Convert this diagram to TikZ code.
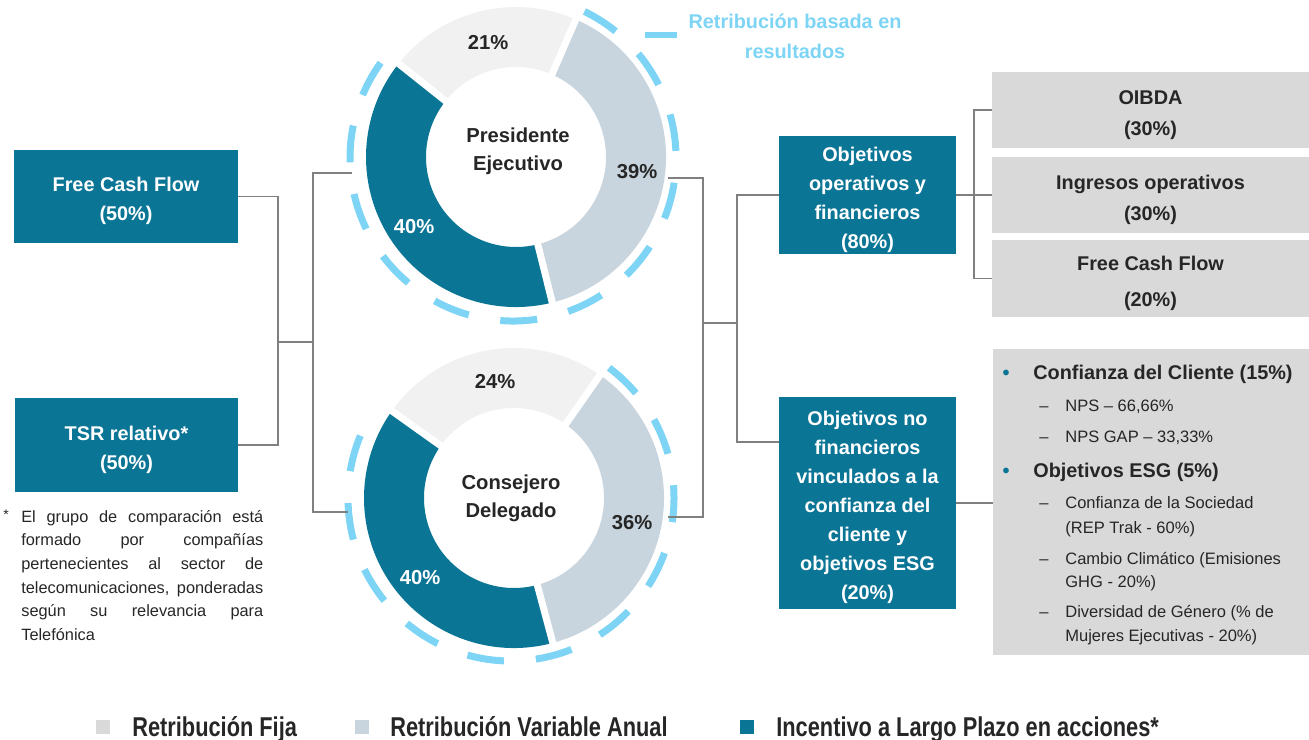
\documentclass[tikz,border=0pt]{standalone}
\usepackage{fontspec}
\setmainfont{Liberation Sans}
\newfontfamily\narrowfont{Liberation Sans}[FakeStretch=0.8]
\usetikzlibrary{calc}
\tolerance=10000
\definecolor{tblue}{RGB}{11,117,150}
\definecolor{lgray}{RGB}{241,241,241}
\definecolor{bgray}{RGB}{200,213,222}
\definecolor{sky}{RGB}{125,212,244}
\definecolor{boxgray}{RGB}{217,217,217}
\definecolor{lnk}{RGB}{128,128,128}
\definecolor{txt}{RGB}{38,38,38}
\newcommand{\bx}{\bfseries\fontsize{11.3}{16.5}\selectfont}
\newcommand{\gx}{\bfseries\fontsize{11.3}{17.6}\selectfont}
\newcommand{\rin}{90}
\newcommand{\rout}{150}
\newcommand{\rdash}{163}
% ring piece: centre x, centre y, from, to, colour
\newcommand{\piece}[5]{
\fill[#5] ($(#1,#2)+(#3:\rout)$) arc (#3:#4:\rout) --
          ($(#1,#2)+(#4:\rin)$) arc (#4:#3:\rin) -- cycle;
}
% white cut between two pieces
\newcommand{\piecegap}[3]{
\draw[white, line width=0.14cm] ($(#1,#2)+(#3:84)$) -- ($(#1,#2)+(#3:156)$);
}
% dashed ring round the variable part
\newcommand{\varring}[4]{
\draw[sky, line width=0.14cm, dash pattern=on 0.74cm off 0.64cm]
     ($(#1,#2)+(#3:\rdash)$) arc (#3:#4:\rdash);
}
% list lines of the grey box: name, baseline, text
\newcommand{\esghead}[3]{
\node[headtxt, anchor=base west] (#1) at (1033,#2) {#3};
\node[font=\bfseries\fontsize{11.3}{14}\selectfont, text=tblue, inner sep=0pt, anchor=base] (#1b) at (1006,#2) {\textbullet};
}
\newcommand{\esgsub}[3]{
\node[subtxt, anchor=base west] (#1) at (1065,#2) {#3};
\node[subtxt, anchor=base] (#1d) at (1044,#2) {--};
}
\newcommand{\esgmore}[3]{
\node[subtxt, anchor=base west] (#1) at (1065,#2) {#3};
}
% strut that sets the first line of a box a little lower
\newcommand{\bs}{\rule{0pt}{13.3pt}}

\begin{document}
\begin{tikzpicture}[x=0.02cm, y=-0.02cm,
  tbox/.style={fill=tblue, text=white, font=\bx, align=center, inner sep=0pt},
  gbox/.style={fill=boxgray, text=txt, font=\gx, align=center, inner sep=0pt,
               minimum width=6.34cm, minimum height=1.52cm},
  conn/.style={draw=lnk, line width=1.1pt},
  pct/.style={font=\bfseries\fontsize{11.5}{14}\selectfont, text=txt, inner sep=0pt},
  who/.style={font=\bfseries\fontsize{11.5}{16}\selectfont, text=txt, align=center, inner sep=0pt},
  headtxt/.style={font=\bfseries\fontsize{11.3}{14}\selectfont, text=txt, inner sep=0pt},
  subtxt/.style={font=\fontsize{9.4}{12}\selectfont, text=txt, inner sep=0pt},
  legsq/.style={minimum size=0.28cm, inner sep=0pt},
  legtxt/.style={font=\narrowfont\bfseries\fontsize{15.5}{18}\selectfont, text=txt, inner sep=0pt, anchor=base west}]
\useasboundingbox (0,0) rectangle (1309,740);

% presidente ejecutivo
\piece{516}{157}{-66.5}{76}{bgray}
\piece{516}{157}{76}{218.5}{tblue}
\piece{516}{157}{218.5}{293.5}{lgray}
\piecegap{516}{157}{-66.5}
\piecegap{516}{157}{76}
\piecegap{516}{157}{218.5}
\varring{513}{158}{-64}{216}

% consejero delegado
\piece{514}{498}{-55}{75}{bgray}
\piece{514}{498}{75}{215.5}{tblue}
\piece{514}{498}{215.5}{305}{lgray}
\piecegap{514}{498}{-55}
\piecegap{514}{498}{75}
\piecegap{514}{498}{215.5}
\varring{511}{498}{-53}{212}

\node[who] (pres) at (518,151) {Presidente\\Ejecutivo};
\node[who] (cons) at (511,498) {Consejero\\Delegado};
\node[pct] (p21) at (488,43) {21\%};
\node[pct] (p39) at (637,172) {39\%};
\node[pct, text=white] (p40a) at (414,227) {40\%};
\node[pct] (p24) at (495,382) {24\%};
\node[pct] (p36) at (632,523) {36\%};
\node[pct, text=white] (p40b) at (420,578) {40\%};

% key of the dashed ring
\node[fill=sky, minimum width=0.64cm, minimum height=0.13cm, inner sep=0pt] (keydash) at (661,35) {};
\node[font=\bfseries\fontsize{11.3}{17}\selectfont, text=sky, align=center, inner sep=0pt] (keytxt) at (795,36)
     {Retribución basada en\\resultados};

% long term incentive
\node[tbox, minimum width=4.48cm, minimum height=1.86cm] (fcf) at (126,196.5) {\bs Free Cash Flow\\(50\%)};
\node[tbox, minimum width=4.46cm, minimum height=1.88cm] (tsr) at (126.5,445) {\bs TSR relativo*\\(50\%)};
\node[font=\fontsize{8}{10}\selectfont, text=txt, inner sep=0pt, anchor=base] (star) at (6,519) {*};
\node[anchor=north west, text width=4.84cm, align=justify, font=\fontsize{9.3}{13.4}\selectfont,
      text=txt, inner sep=0pt] (note) at (21,510)
     {El grupo de comparación está\linebreak formado por compañías\linebreak
      pertenecientes al sector de\linebreak telecomunicaciones, ponderadas\linebreak
      según su relevancia para\linebreak Telefónica};

% annual variable
\node[tbox, minimum width=3.54cm, minimum height=2.36cm] (opobj) at (867.5,195)
     {\bs Objetivos\\operativos y\\financieros\\(80\%)};
\node[tbox, minimum width=3.54cm, minimum height=4.24cm] (nfin) at (867.5,503)
     {\bs Objetivos no\\financieros\\vinculados a la\\confianza del\\cliente y\\objetivos ESG\\(20\%)};
\node[gbox] (oibda) at (1150.5,110) {\bs OIBDA\\(30\%)};
\node[gbox] (ingr) at (1150.5,195) {\bs Ingresos operativos\\(30\%)};
\node[gbox, minimum height=1.54cm] (fcfb) at (1150.5,278.5) {\bs Free Cash Flow\\[3pt](20\%)};
\node[fill=boxgray, minimum width=6.32cm, minimum height=6.14cm, inner sep=0pt] (esg) at (1151,502) {};

\esghead{cli}{379}{Confianza del Cliente (15\%)}
\esgsub{nps}{411}{NPS – 66,66\%}
\esgsub{gap}{442}{NPS GAP – 33,33\%}
\esghead{obj}{477}{Objetivos ESG (5\%)}
\esgsub{soc}{508}{Confianza de la Sociedad}
\esgmore{soca}{533}{(REP Trak - 60\%)}
\esgsub{cli2}{564}{Cambio Climático (Emisiones}
\esgmore{cli2a}{587}{GHG - 20\%)}
\esgsub{gen}{617}{Diversidad de Género (\% de}
\esgmore{gena}{641}{Mujeres Ejecutivas - 20\%)}

% connectors
\coordinate (presL) at (352,173);
\coordinate (presR) at (668,178);
\coordinate (consL) at (348,512);
\coordinate (consR) at (668,517);
\coordinate (lj1) at (278,342);
\coordinate (lj2) at (313,342);
\coordinate (rj1) at (703,323);
\coordinate (rj2) at (737,323);
\coordinate (rj3) at (974,195);

\draw[conn] (fcf.east) -| (lj1) |- (tsr.east);
\draw[conn] (lj1) -- (lj2);
\draw[conn] (presL) -| (lj2) |- (consL);

\draw[conn] (presR) -| (rj1) |- (consR);
\draw[conn] (rj1) -- (rj2);
\draw[conn] (opobj.west) -| (rj2) |- ([yshift=1.22cm]nfin.west);

\draw[conn] (opobj.east) -- (rj3);
\draw[conn] (oibda.west) -| (rj3) |- (fcfb.west);
\draw[conn] (rj3) -- (ingr.west);
\draw[conn] (nfin.east) -- (nfin.east -| esg.west);

% legend
\node[legsq, fill=boxgray] (sqfija) at (103,727) {};
\node[legtxt] (lfija) at (132,736) {Retribución Fija};
\node[legsq, fill=bgray] (sqvar) at (362,727) {};
\node[legtxt] (lvar) at (390,736) {Retribución Variable Anual};
\node[legsq, fill=tblue] (sqilp) at (747,727) {};
\node[legtxt] (lilp) at (776,736) {Incentivo a Largo Plazo en acciones*};
\end{tikzpicture}
\end{document}
